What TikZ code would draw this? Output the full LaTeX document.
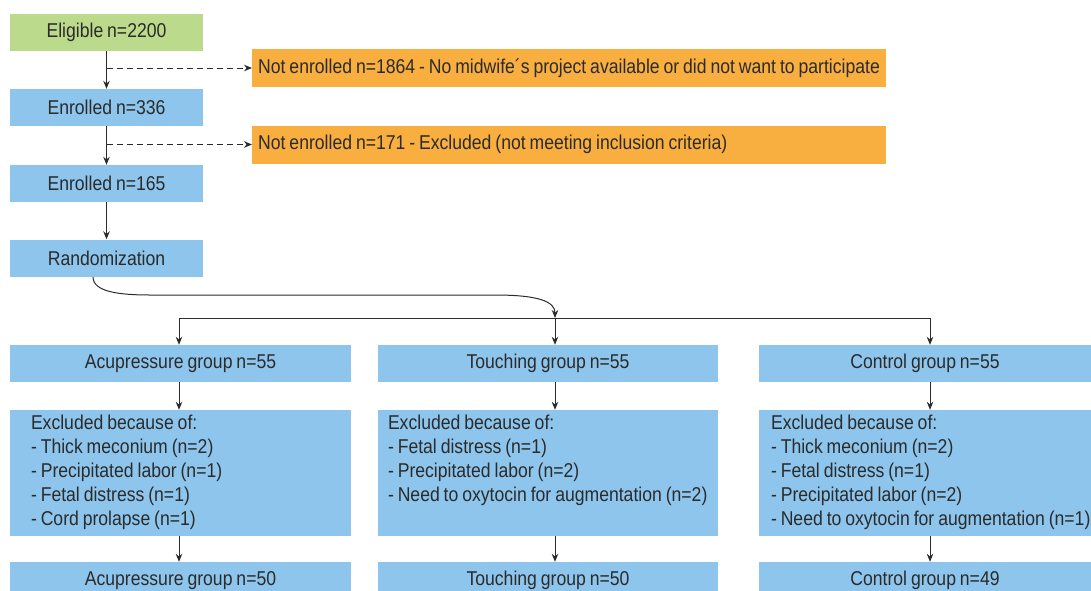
\documentclass[tikz,border=0pt]{standalone}
\usepackage{fontspec}
\setmainfont{Liberation Sans}[FakeStretch=0.88,WordSpace=0.8]
\usetikzlibrary{arrows.meta}
\definecolor{boxblue}{HTML}{8DC5EC}
\definecolor{boxgreen}{HTML}{BBDA8B}
\definecolor{boxorange}{HTML}{F9AE40}
\definecolor{ink}{HTML}{2B2B2B}
\newcommand{\notline}[1]{\makebox[622pt][l]{#1}}

\begin{document}
\begin{tikzpicture}[x=1pt,y=-1pt,
    every node/.style={inner sep=0pt, text=ink, font=\fontsize{20}{24}\selectfont},
    bluebox/.style={fill=boxblue, minimum height=37pt},
    greenbox/.style={fill=boxgreen, minimum height=37pt},
    notbox/.style={fill=boxorange, minimum height=38pt, anchor=west, inner xsep=6pt},
    exbox/.style={fill=boxblue, minimum height=126pt},
    listtext/.style={anchor=north west, align=left},
    line/.style={draw=ink, line width=1pt},
    dashline/.style={line, dash pattern=on 6pt off 4pt},
    >={Stealth[length=8pt,width=6.5pt]}]
    \useasboundingbox (0,0) rectangle (1091,590);
    % left column
    \node [greenbox, minimum width=193pt] (elig) at (106.5,32.5) {Eligible n=2200};
    \node [bluebox, minimum width=193pt] (enr1) at (106.5,107.5) {Enrolled n=336};
    \node [bluebox, minimum width=193pt] (enr2) at (106.5,183.5) {Enrolled n=165};
    \node [bluebox, minimum width=193pt] (rand) at (106.5,258) {Randomization};
    \node [notbox] (not1) at (252,68) {\notline{Not enrolled n=1864 - No midwife´s project available or did not want to participate}};
    \node [notbox] (not2) at (252,144.5) {\notline{Not enrolled n=171 - Excluded (not meeting inclusion criteria)}};
    % groups
    \node [bluebox, minimum width=341pt] (acu55) at (180.5,363.5) {Acupressure group n=55};
    \node [bluebox, minimum width=340pt] (tou55) at (548,363.5) {Touching group n=55};
    \node [bluebox, minimum width=332pt] (con55) at (925,363.5) {Control group n=55};
    \node [exbox, minimum width=341pt] (acuex) at (180.5,473) {};
    \node [exbox, minimum width=340pt] (touex) at (548,473) {};
    \node [exbox, minimum width=332pt] (conex) at (925,473) {};
    \node [bluebox, minimum width=341pt] (acu50) at (180.5,580.5) {Acupressure group n=50};
    \node [bluebox, minimum width=340pt] (tou50) at (548,580.5) {Touching group n=50};
    \node [bluebox, minimum width=332pt] (con49) at (925,580.5) {Control group n=49};
    % lists
    \node [listtext] (acutxt) at ([xshift=21pt,yshift=-5pt]acuex.north west)
        {Excluded because of:\\- Thick meconium (n=2)\\- Precipitated labor (n=1)\\- Fetal distress (n=1)\\- Cord prolapse (n=1)};
    \node [listtext] (toutxt) at ([xshift=10pt,yshift=-5pt]touex.north west)
        {Excluded because of:\\- Fetal distress (n=1)\\- Precipitated labor (n=2)\\- Need to oxytocin for augmentation (n=2)};
    \node [listtext] (context) at ([xshift=12pt,yshift=-5pt]conex.north west)
        {Excluded because of:\\- Thick meconium (n=2)\\- Fetal distress (n=1)\\- Precipitated labor (n=2)\\- Need to oxytocin for augmentation (n=1)};
    % connectors
    \draw [line,->] (elig) -- (enr1);
    \draw [line,->] (enr1) -- (enr2);
    \draw [line,->] (enr2) -- (rand);
    \draw [dashline,->] (elig.south |- not1.west) -- (not1.west);
    \draw [dashline,->] (enr1.south |- not2.west) -- (not2.west);
    \coordinate (start) at (93,277);
    \coordinate (bendl) at (150,295);
    \coordinate (bendr) at (495,295);
    \coordinate (splitl) at (179,318);
    \coordinate (splitm) at (555,318);
    \coordinate (splitr) at (930,318);
    \draw [line,->] (start) .. controls (93,292) and (120,295) .. (bendl) -- (bendr)
        .. controls (540,295) and (555,302) .. (splitm);
    \draw [line] (splitl) -- (splitr);
    \draw [line,->] (splitl) -- (splitl |- acu55.north);
    \draw [line,->] (splitm) -- (splitm |- tou55.north);
    \draw [line,->] (splitr) -- (splitr |- con55.north);
    \draw [line,->] (splitl |- acu55.south) -- (splitl |- acuex.north);
    \draw [line,->] (splitm |- tou55.south) -- (splitm |- touex.north);
    \draw [line,->] (splitr |- con55.south) -- (splitr |- conex.north);
    \draw [line,->] (splitl |- acuex.south) -- (splitl |- acu50.north);
    \draw [line,->] (splitm |- touex.south) -- (splitm |- tou50.north);
    \draw [line,->] (splitr |- conex.south) -- (splitr |- con49.north);
\end{tikzpicture}
\end{document}
